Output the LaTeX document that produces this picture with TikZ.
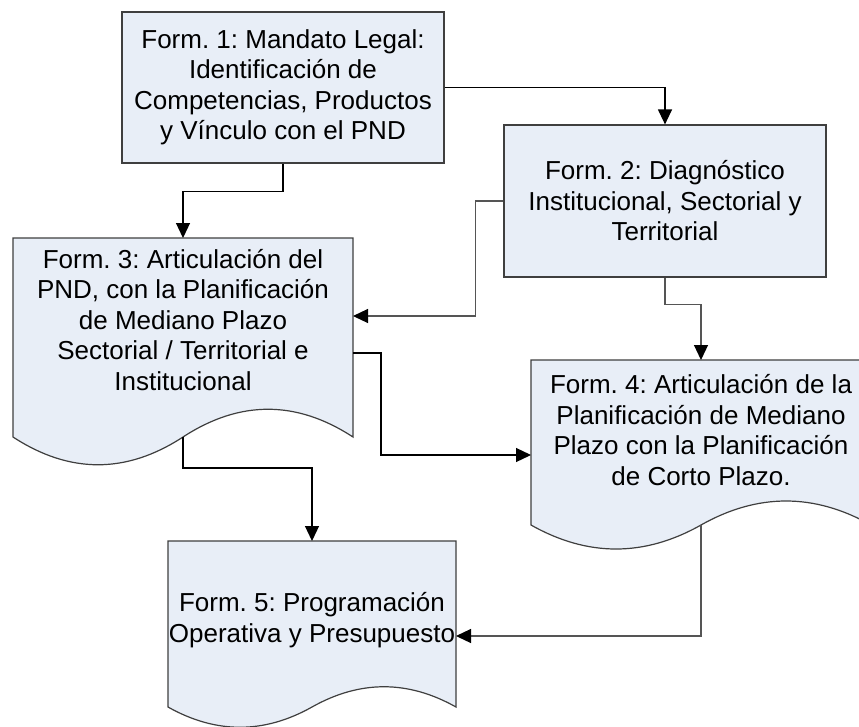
\documentclass[tikz,border=0pt]{standalone}
\usepackage{fontspec}
\setmainfont{Liberation Sans}
\usetikzlibrary{arrows.meta, positioning, calc}

\definecolor{boxfill}{HTML}{E8EEF7}
\definecolor{boxline}{HTML}{3F3F3F}
\definecolor{linkgray}{HTML}{555555}

\newcommand{\formfont}{\fontsize{26}{30.5}\selectfont\frenchspacing}

% document shape (wavy bottom) drawn round a placeholder node
\newcommand{\docshape}[2]{%
  \filldraw[formline] (#1.north west) -- (#1.north east) -- (#1.south east)
    .. controls ($(#1.south east)!0.1667!(#1.south west)+(0,-#2)$)
            and ($(#1.south east)!0.3333!(#1.south west)+(0,-#2)$) .. ($(#1.south east)!0.5!(#1.south west)$)
    .. controls ($(#1.south east)!0.6667!(#1.south west)+(0,#2)$)
            and ($(#1.south east)!0.8333!(#1.south west)+(0,#2)$) .. (#1.south west) -- cycle;}

\begin{document}
\begin{tikzpicture}[x=1pt, y=-1pt,
    formline/.style={draw=boxline, fill=boxfill, line width=1.2pt},
    formbox/.style={formline, align=center, font=\formfont, inner sep=0pt},
    formtext/.style={align=center, font=\formfont, inner sep=0pt},
    holder/.style={inner sep=0pt, outer sep=0pt},
    link/.style={line width=1.2pt, -{Triangle[length=15pt, width=14pt]}},
    greylink/.style={line width=1.2pt, draw=linkgray, -{Triangle[length=15pt, width=14pt, color=black]}}
  ]
    \clip (0,0) rectangle (859,726);
    \fill[white] (0,0) rectangle (859,726);

    % Form 1 and Form 2 (plain boxes)
    \node[formbox, minimum width=322pt, minimum height=151pt] (form1) at (283,87.5)
        {Form. 1: Mandato Legal:\\ Identificación de\\ Competencias, Productos\\ y Vínculo con el PND};
    \node[formbox, minimum width=322pt, minimum height=152pt] (form2) at (665,201)
        {Form. 2: Diagnóstico\\ Institucional, Sectorial y\\ Territorial};

    % Form 3 (document)
    \node[holder, minimum width=340pt, minimum height=199pt] (form3) at (183,337.5) {};
    \docshape{form3}{37}
    \node[formtext] (text3) at (183,320)
        {Form. 3: Articulación del\\ PND, con la Planificación\\ de Mediano Plazo\\ Sectorial / Territorial e\\ Institucional};

    % Form 4 (document, runs past the right edge)
    \node[holder, minimum width=340pt, minimum height=165pt] (form4) at (701,442.5) {};
    \docshape{form4}{32}
    \node[formtext] (text4) at (701,430)
        {Form. 4: Articulación de la\\ Planificación de Mediano\\ Plazo con la Planificación\\ de Corto Plazo.};

    % Form 5 (document)
    \node[holder, minimum width=288pt, minimum height=166pt] (form5) at (312,624) {};
    \docshape{form5}{27}
    \node[formtext] (text5) at (312,620)
        {Form. 5: Programación\\ Operativa y Presupuesto};

    % Connectors
    \draw[link] (form1.east) -| (form2.north);
    \draw[link] (form1.south) -- ++(0,28) -| (form3.north);
    \draw[greylink] (form2.west) -- ++(-28,0) |- ([yshift=21.5pt]form3.east);
    \draw[greylink] (form2.south) -- ++(0,27) -| (form4.north);
    \draw[link] ([yshift=-15.5pt]form3.east) -- ++(28,0) |- ([yshift=-12.5pt]form4.west);
    \draw[link] (form3.south) -- ++(0,31) -| (form5.north);
    \draw[greylink] (form4.south) |- ([yshift=-12pt]form5.east);
\end{tikzpicture}
\end{document}
